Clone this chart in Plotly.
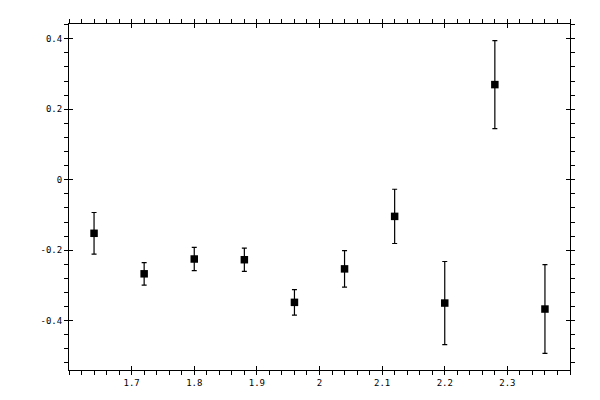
import plotly.graph_objects as go

x_vals = [1.64, 1.72, 1.80, 1.88, 1.96, 2.04, 2.12, 2.20, 2.28, 2.36]
y_vals = [-0.152, -0.267, -0.225, -0.227, -0.348, -0.253, -0.104, -0.350, 0.270, -0.367]
y_err = [0.059, 0.032, 0.033, 0.033, 0.036, 0.052, 0.077, 0.118, 0.125, 0.126]

x_ticks = [1.7, 1.8, 1.9, 2.0, 2.1, 2.2, 2.3]
x_labels = ["1.7", "1.8", "1.9", "2", "2.1", "2.2", "2.3"]
y_ticks = [-0.4, -0.2, 0.0, 0.2, 0.4]
y_labels = ["-0.4", "-0.2", "0", "0.2", "0.4"]

x_range = [1.6, 2.4]
y_range = [-0.54, 0.442]

font = dict(family="DejaVu Sans Mono", size=9, color="black")

fig = go.Figure()
fig.add_trace(go.Scatter(
    x=x_vals, y=y_vals, mode="markers",
    marker=dict(symbol="square", size=7.5, color="black"),
    error_y=dict(type="data", array=y_err, visible=True, color="black", thickness=1.2, width=2.5),
    showlegend=False,
))
# empty trace to activate the overlay axes (inner half of major ticks)
fig.add_trace(go.Scatter(x=[], y=[], xaxis="x2", yaxis="y2", showlegend=False, hoverinfo="skip"))

common_axis = dict(showgrid=False, zeroline=False, ticks="outside", ticklen=4, tickwidth=1,
                   tickcolor="black", mirror="allticks", showline=True, linecolor="black",
                   linewidth=1, tickfont=font, tickmode="array")

fig.update_layout(
    width=600, height=400,
    margin=dict(l=61, r=38, t=11, b=38),
    paper_bgcolor="white", plot_bgcolor="white",
    xaxis=dict(range=x_range, tickvals=x_ticks, ticktext=x_labels,
               minor=dict(tickmode="linear", tick0=1.6, dtick=0.02, ticks="outside", ticklen=4,
                          tickcolor="black", tickwidth=1),
               **common_axis),
    yaxis=dict(range=y_range, tickvals=y_ticks, ticktext=y_labels,
               minor=dict(tickmode="linear", tick0=0, dtick=0.04, ticks="outside", ticklen=4,
                          tickcolor="black", tickwidth=1),
               **common_axis),
    xaxis2=dict(overlaying="x", anchor="y2", range=x_range, tickmode="array", tickvals=x_ticks,
                ticks="inside", ticklen=4, tickwidth=1, tickcolor="black", mirror="allticks",
                showticklabels=False, showgrid=False, zeroline=False, showline=False),
    yaxis2=dict(overlaying="y", anchor="x2", range=y_range, tickmode="array", tickvals=y_ticks,
                ticks="inside", ticklen=4, tickwidth=1, tickcolor="black", mirror="allticks",
                showticklabels=False, showgrid=False, zeroline=False, showline=False),
)

fig.write_html("out.html")
